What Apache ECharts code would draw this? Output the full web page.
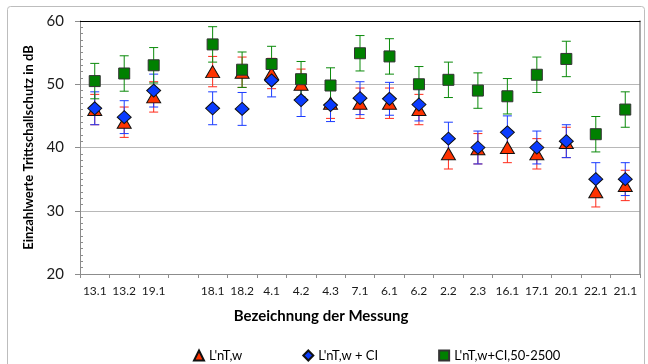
<!DOCTYPE html>
<html>
<head>
<meta charset="utf-8">
<script src="https://cdn.jsdelivr.net/npm/echarts@6/dist/echarts.min.js"></script>
<style>
  html, body { margin: 0; padding: 0; background: #fff; }
  #chart { width: 648px; height: 364px; }
</style>
</head>
<body>
<div id="chart"></div>
<script>
// Measurement labels; the blank entry leaves a gap between the two groups
const categories = ['13.1', '13.2', '19.1', '', '18.1', '18.2', '4.1', '4.2', '4.3', '7.1', '6.1', '6.2', '2.2', '2.3', '16.1', '17.1', '20.1', '22.1', '21.1'];

// Single-number ratings in dB
const lnTw     = [46.0, 44.0, 48.0, null, 52.0, 51.9, 51.7, 50.0, 47.0, 47.0, 47.0, 46.0, 39.0, 39.8, 40.0, 39.0, 40.8, 33.0, 34.0];
const lnTwCI   = [46.2, 44.8, 49.0, null, 46.2, 46.1, 50.6, 47.5, 46.7, 47.8, 47.7, 46.8, 41.4, 40.0, 42.4, 40.0, 41.0, 35.0, 35.0];
const lnTwCI50 = [50.5, 51.7, 53.0, null, 56.3, 52.3, 53.2, 50.8, 49.8, 54.9, 54.4, 50.0, 50.7, 49.0, 48.1, 51.5, 54.0, 42.1, 46.0];

// Measurement uncertainty (± dB) per rating
const uncLnTw = 2.4;
const uncLnTwCI = 2.6;
const uncLnTwCI50 = 2.8;

const seriesNames = ["L'nT,w", "L'nT,w + CI", "L'nT,w+CI,50-2500"];
const yTicks = { min: 20, max: 60, interval: 10 };

const FONT = 'Lato, "Open Sans", sans-serif';

function errorData(values, unc) {
  const out = [];
  values.forEach(function (v, i) {
    if (v != null) out.push([i, v - unc, v + unc]);
  });
  return out;
}

function errorSeries(values, unc, color) {
  return {
    type: 'custom',
    silent: true,
    data: errorData(values, unc),
    encode: { x: 0, y: [1, 2] },
    renderItem: function (params, api) {
      const x = api.value(0);
      const lo = api.coord([x, api.value(1)]);
      const hi = api.coord([x, api.value(2)]);
      const half = 4.5;
      const style = { stroke: color, lineWidth: 1 };
      return {
        type: 'group',
        children: [
          { type: 'line', shape: { x1: lo[0], y1: lo[1], x2: hi[0], y2: hi[1] }, style: style },
          { type: 'line', shape: { x1: lo[0] - half, y1: lo[1], x2: lo[0] + half, y2: lo[1] }, style: style },
          { type: 'line', shape: { x1: hi[0] - half, y1: hi[1], x2: hi[0] + half, y2: hi[1] }, style: style }
        ]
      };
    }
  };
}

function markerSeries(name, values, symbol, size, fill, border) {
  return {
    name: name,
    type: 'scatter',
    data: values,
    symbol: symbol,
    symbolSize: size,
    itemStyle: { color: fill, borderColor: border, borderWidth: 1, opacity: 1 },
    emphasis: { disabled: true }
  };
}

const chart = echarts.init(document.getElementById('chart'), null, { renderer: 'canvas' });

chart.setOption({
  animation: false,
  backgroundColor: '#ffffff',
  textStyle: { fontFamily: FONT },
  graphic: [{
    type: 'rect',
    shape: { x: 7.5, y: 6.5, width: 637, height: 362, r: 3 },
    style: { fill: 'none', stroke: '#bdbdbd', lineWidth: 1 },
    z: -10,
    silent: true
  }],
  grid: { left: 80, right: 8, top: 21, bottom: 90, containLabel: false },
  xAxis: [{
    type: 'category',
    data: categories,
    boundaryGap: true,
    axisLine: { lineStyle: { color: '#8c8c8c', width: 1 } },
    axisTick: { show: true, length: 4, lineStyle: { color: '#8c8c8c' } },
    axisLabel: { color: '#1a1a1a', fontSize: 12, margin: 11, interval: 0, fontFamily: FONT },
    splitLine: { show: false },
    name: 'Bezeichnung der Messung',
    nameLocation: 'middle',
    nameGap: 35,
    nameTextStyle: { fontSize: 15, fontWeight: 'bold', color: '#000', fontFamily: FONT, padding: [0, 78, 0, 0] }
  }, {
    type: 'category',
    data: categories,
    position: 'top',
    axisLine: { lineStyle: { color: '#000', width: 1 } },
    axisTick: { show: false },
    axisLabel: { show: false }
  }],
  yAxis: [{
    type: 'value',
    min: yTicks.min,
    max: yTicks.max,
    interval: yTicks.interval,
    axisLine: { show: true, lineStyle: { color: '#8c8c8c', width: 1 } },
    axisTick: { show: true, length: 5, lineStyle: { color: '#8c8c8c' } },
    axisLabel: { color: '#1a1a1a', fontSize: 15, margin: 16, fontFamily: FONT },
    splitLine: { show: true, lineStyle: { color: '#b8b8b8', width: 1 } },
    name: 'Einzahlwerte Trittschallschutz in dB',
    nameLocation: 'middle',
    nameGap: 37,
    nameTextStyle: { fontSize: 13, fontWeight: 'bold', color: '#000', fontFamily: FONT }
  }, {
    // inner minor ticks along the left axis
    type: 'value',
    position: 'left',
    min: yTicks.min,
    max: yTicks.max,
    interval: yTicks.interval,
    axisLine: { show: false },
    axisTick: { show: false, inside: true },
    minorTick: { show: true, splitNumber: 10, length: 3, lineStyle: { color: '#8c8c8c' } },
    axisLabel: { show: false },
    splitLine: { show: false }
  }, {
    type: 'value',
    position: 'right',
    min: yTicks.min,
    max: yTicks.max,
    interval: yTicks.interval,
    axisLine: { show: true, lineStyle: { color: '#8c8c8c', width: 1.5 } },
    axisTick: { show: false },
    axisLabel: { show: false },
    splitLine: { show: false }
  }],
  legend: {
    left: 188,
    top: 344,
    itemWidth: 10,
    itemHeight: 10,
    itemGap: 60,
    selectedMode: false,
    textStyle: { fontSize: 13, color: '#000', fontFamily: FONT },
    data: [
      { name: seriesNames[0], icon: 'triangle' },
      { name: seriesNames[1], icon: 'diamond' },
      { name: seriesNames[2], icon: 'rect' }
    ]
  },
  series: [
    errorSeries(lnTw, uncLnTw, '#ff2a1a'),
    markerSeries(seriesNames[0], lnTw, 'triangle', [14, 12], '#ff3300', '#111'),
    errorSeries(lnTwCI, uncLnTwCI, '#1a3cff'),
    markerSeries(seriesNames[1], lnTwCI, 'diamond', [14, 13], '#0a3cff', '#111'),
    errorSeries(lnTwCI50, uncLnTwCI50, '#0a8a0a'),
    markerSeries(seriesNames[2], lnTwCI50, 'rect', [11, 11], '#008000', '#333')
  ]
});
</script>
</body>
</html>
